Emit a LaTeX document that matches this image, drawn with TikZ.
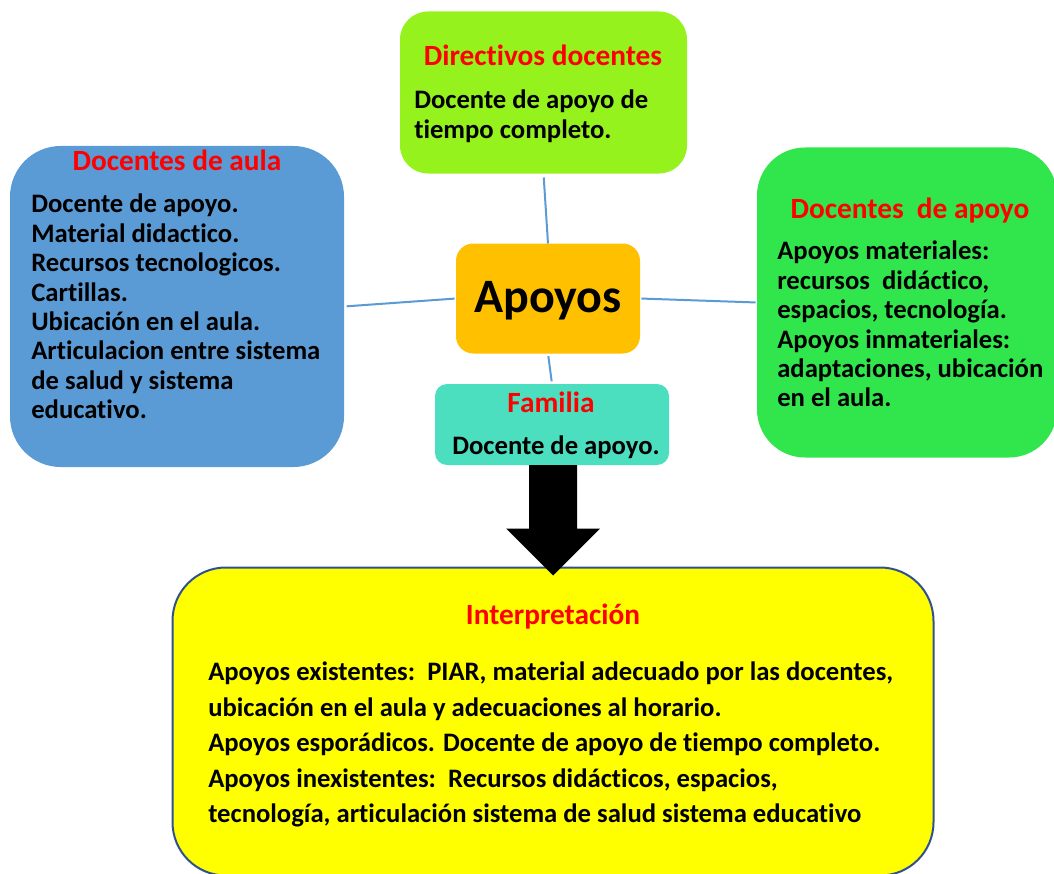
\documentclass[tikz,border=0pt]{standalone}
\usepackage{fontspec}
\setmainfont{Carlito}[Ligatures={NoCommon}]
\usetikzlibrary{calc}

\definecolor{limegreen}{HTML}{95F21C}
\definecolor{aulablue}{HTML}{5B9BD5}
\definecolor{apoyogreen}{HTML}{31E64C}
\definecolor{centerorange}{HTML}{FFC000}
\definecolor{familyteal}{HTML}{4BDFC0}
\definecolor{noteyellow}{HTML}{FFFF00}
\definecolor{noteborder}{HTML}{2F528F}
\definecolor{linkblue}{HTML}{5B9BD5}
\definecolor{titlered}{HTML}{FF0000}

\tikzset{
  box/.style={rectangle, inner sep=0pt, outer sep=0pt, draw=none},
  title/.style={inner sep=0pt, text=titlered, font=\fontsize{22}{24}\selectfont\bfseries, anchor=base},
  body/.style={inner sep=0pt, align=left, anchor=north west,
               font=\fontsize{20}{22.05}\selectfont\bfseries},
  link/.style={draw=linkblue, line width=1.5pt}
}

\begin{document}
\begin{tikzpicture}[x=0.75pt, y=-0.75pt]
  \useasboundingbox (0,0) rectangle (1054,874);
  \clip (0,0) rectangle (1054,874);

  % boxes
  \node[box, fill=limegreen, rounded corners=21, minimum width=287*0.75pt, minimum height=162*0.75pt]
    (dir) at (543.5,92.5) {};
  \node[box, fill=aulablue, rounded corners=38, minimum width=334*0.75pt, minimum height=321*0.75pt]
    (aula) at (177,306.5) {};
  \node[box, fill=apoyogreen, rounded corners=36, minimum width=300*0.75pt, minimum height=310*0.75pt]
    (apoyo) at (907,302.5) {};
  \node[box, fill=centerorange, rounded corners=13, minimum width=184*0.75pt, minimum height=110*0.75pt]
    (center) at (548,298.5) {};
  \node[box, fill=familyteal, rounded corners=9, minimum width=234*0.75pt, minimum height=81*0.75pt]
    (fam) at (552,424.5) {};
  \node[box, fill=noteyellow, draw=noteborder, line width=1.5pt, rounded corners=40,
        minimum width=761*0.75pt, minimum height=308*0.75pt]
    (interp) at (553,721.5) {};

  % connectors from the centre
  \draw[link, shorten <=3pt] (dir.south) -- (center.north);
  \draw[link, shorten <=2pt, shorten >=1pt] (aula.east) -- (center.west);
  \draw[link, shorten <=1pt, shorten >=1pt] (center.east) -- (apoyo.west);
  \draw[link, shorten <=2pt, shorten >=2pt] (center.south) -- (fam.north);

  % block arrow from Familia down to the interpretation
  \coordinate (tip) at ($(interp.north)+(0,8)$);
  \coordinate (top) at (fam.south -| tip);
  \fill[black] ($(top)+(-24,0)$) -- ($(tip)+(-24,-47)$) -- ($(tip)+(-47,-47)$) -- (tip)
    -- ($(tip)+(47,-47)$) -- ($(tip)+(24,-47)$) -- ($(top)+(24,0)$) -- cycle;

  % texts
  \node[title] (dirT) at (543,66) {Directivos docentes};
  \node[body] (dirB) at (414,90) {Docente de apoyo de\\tiempo completo.};

  \node[title] (aulaT) at (177,170.5) {Docentes de aula};
  \node[body] (aulaB) at (31,194) {Docente de apoyo.\\Material didactico.\\Recursos tecnologicos.\\Cartillas.\\Ubicación en el aula.\\Articulacion entre sistema\\de salud y sistema\\educativo.};

  \node[title] (apoyoT) at (910,218) {Docentes\ \ de apoyo};
  \node[body] (apoyoB) at (777,241) {Apoyos materiales:\\recursos\ \ didáctico,\\espacios, tecnología.\\Apoyos inmateriales:\\adaptaciones, ubicación\\en el aula.};

  \node[inner sep=0pt, font=\fontsize{36}{40}\selectfont\bfseries] (apoyosT) at (548,301) {Apoyos};

  \node[title] (famT) at (551,412) {Familia};
  \node[inner sep=0pt, anchor=base, font=\fontsize{20}{22}\selectfont\bfseries] (famB) at (556,454) {Docente de apoyo.};

  \node[title] (interpT) at (553,624) {Interpretación};
  \node[body, font=\fontsize{20}{26.6}\selectfont\bfseries] (interpB) at (208,662)
    {Apoyos existentes:\ \ PIAR, material adecuado por las docentes,\\
     ubicación en el aula y adecuaciones al horario.\\
     Apoyos esporádicos. Docente de apoyo de tiempo completo.\\
     Apoyos inexistentes:\ \ Recursos didácticos, espacios,\\
     tecnología, articulación sistema de salud sistema educativo};
\end{tikzpicture}
\end{document}
